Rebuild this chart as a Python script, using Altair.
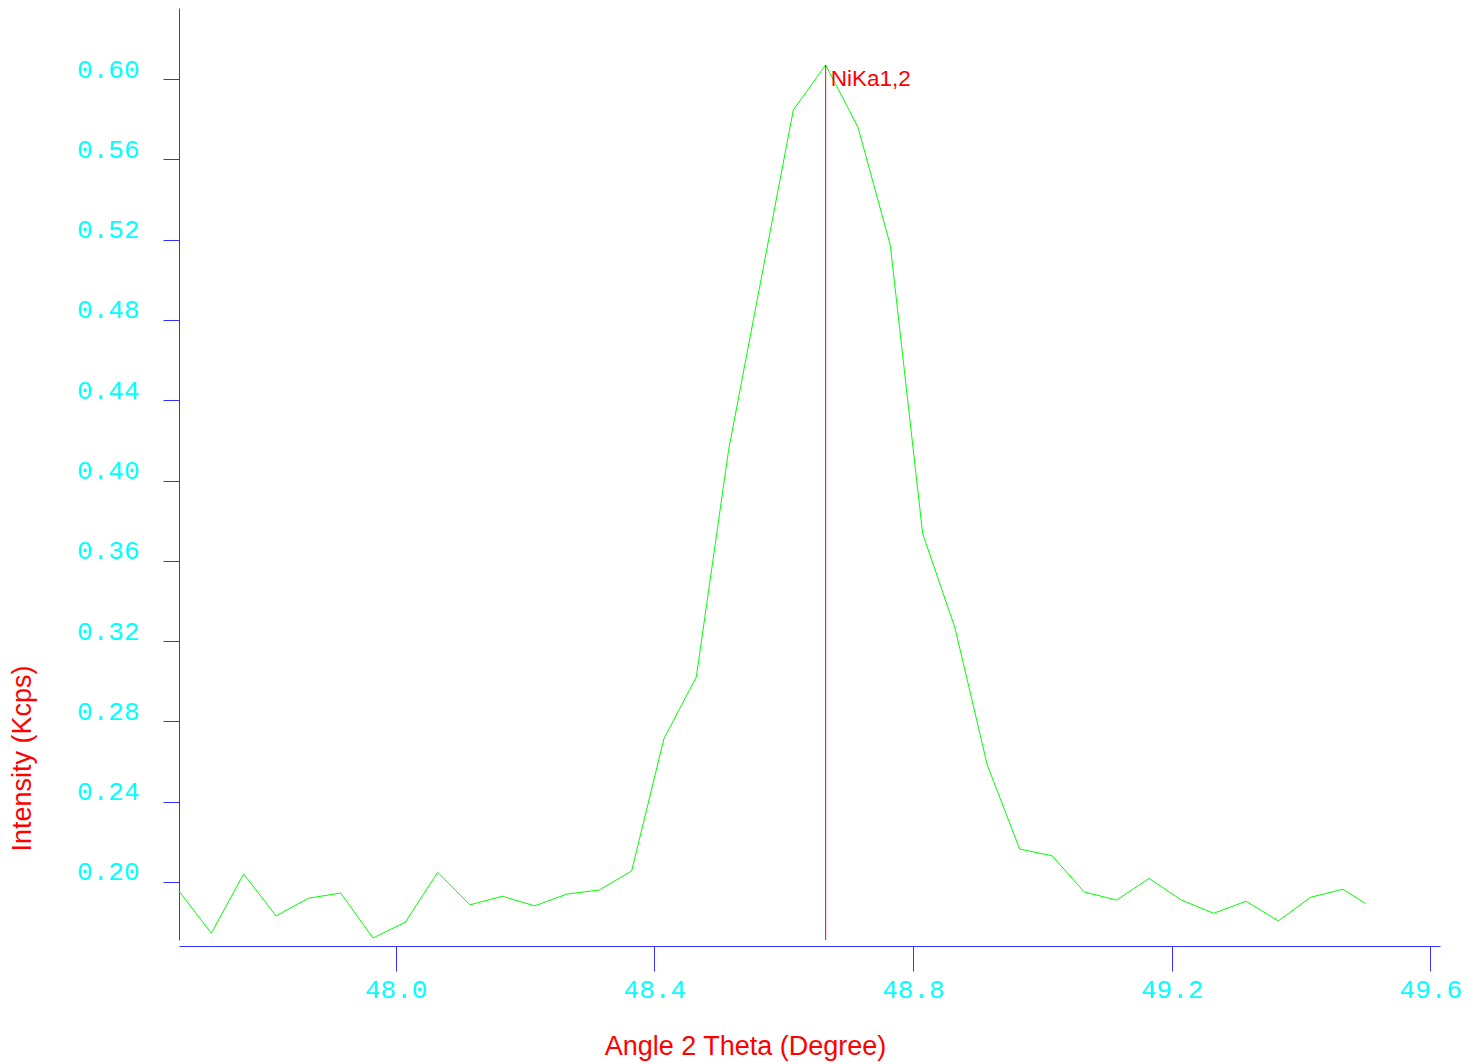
import altair as alt
import pandas as pd

angles = [47.665, 47.715, 47.765, 47.815, 47.865, 47.915, 47.965, 48.015, 48.065, 48.115,
          48.165, 48.215, 48.265, 48.315, 48.365, 48.415, 48.465, 48.515, 48.565, 48.615,
          48.665, 48.715, 48.765, 48.815, 48.865, 48.915, 48.965, 49.015, 49.065, 49.115,
          49.165, 49.215, 49.265, 49.315, 49.365, 49.415, 49.465, 49.500]
intensity = [0.1954, 0.1745, 0.2040, 0.1831, 0.1919, 0.1945, 0.1721, 0.1800, 0.2048, 0.1886,
             0.1929, 0.1881, 0.1940, 0.1960, 0.2055, 0.2715, 0.3021, 0.4154, 0.5000, 0.5846,
             0.6070, 0.5760, 0.5171, 0.3736, 0.3265, 0.2582, 0.2164, 0.2131, 0.1950, 0.1910,
             0.2018, 0.1910, 0.1844, 0.1904, 0.1806, 0.1924, 0.1964, 0.1892]

peak_names = ["NiKa1,2"]
peak_angles = [48.665]
peak_heights = [0.6070]

x_ticks = [48.0, 48.4, 48.8, 49.2, 49.6]
y_ticks = [0.20, 0.24, 0.28, 0.32, 0.36, 0.40, 0.44, 0.48, 0.52, 0.56, 0.60]

W, H = 1261, 932

df = pd.DataFrame({"angle": angles, "intensity": intensity})
peaks = pd.DataFrame({"name": peak_names, "angle": peak_angles, "h": peak_heights})

xscale = alt.Scale(domain=[47.665, 49.615], nice=False, zero=False)
yscale = alt.Scale(domain=[0.1711, 0.6354], nice=False, zero=False)

xaxis = alt.Axis(
    title="Angle 2 Theta (Degree)", values=x_ticks, format=".1f", grid=False,
    domainColor="#3333ff", tickColor="#3333ff", domainWidth=1, tickWidth=1,
    tickSize=25, offset=6, labelColor="#00ffff", labelFont="Liberation Mono",
    labelFontSize=26, labelPadding=5, labelFontWeight="normal",
    titleColor="#ff0000", titleFont="Liberation Sans", titleFontSize=27,
    titleFontWeight="normal", titleX=566, titleY=100, titleBaseline="middle",
    titleAlign="center",
)
yaxis = alt.Axis(
    title="Intensity (Kcps)", values=y_ticks, format=".2f", grid=False,
    domainColor="#3333ff", tickColor="#3333ff", domainWidth=1, tickWidth=1,
    tickSize=16, labelColor="#00ffff", labelFont="Liberation Mono",
    labelFontSize=26, labelPadding=24, labelBaseline="alphabetic", labelOffset=-2,
    titleColor="#ff0000", titleFont="Liberation Sans", titleFontSize=27,
    titleFontWeight="normal", titleX=-157, titleY=750, titleAngle=-90,
    titleBaseline="middle", titleAlign="center",
)

line = alt.Chart(df).mark_line(color="#00ff00", strokeWidth=1).encode(
    x=alt.X("angle:Q", scale=xscale, axis=xaxis),
    y=alt.Y("intensity:Q", scale=yscale, axis=yaxis),
)

rule = alt.Chart(peaks).mark_rule(color="#ff0000", strokeWidth=1).encode(
    x=alt.X("angle:Q", scale=xscale),
    y=alt.Y("h:Q", scale=yscale),
    y2=alt.value(H),
)

label = alt.Chart(peaks).mark_text(
    color="#ff0000", font="Liberation Sans", fontSize=22.5, align="left",
    baseline="top", dx=5, dy=3,
).encode(
    x=alt.X("angle:Q", scale=xscale),
    y=alt.Y("h:Q", scale=yscale),
    text="name:N",
)

chart = alt.layer(line, rule, label).properties(
    width=W, height=H,
    autosize=alt.AutoSizeParams(type="none"),
    padding={"left": 179, "top": 8, "right": 36, "bottom": 124},
    background="white",
).configure_view(stroke=None)

chart.save("out.html", embed_options={"renderer": "svg", "actions": False})
